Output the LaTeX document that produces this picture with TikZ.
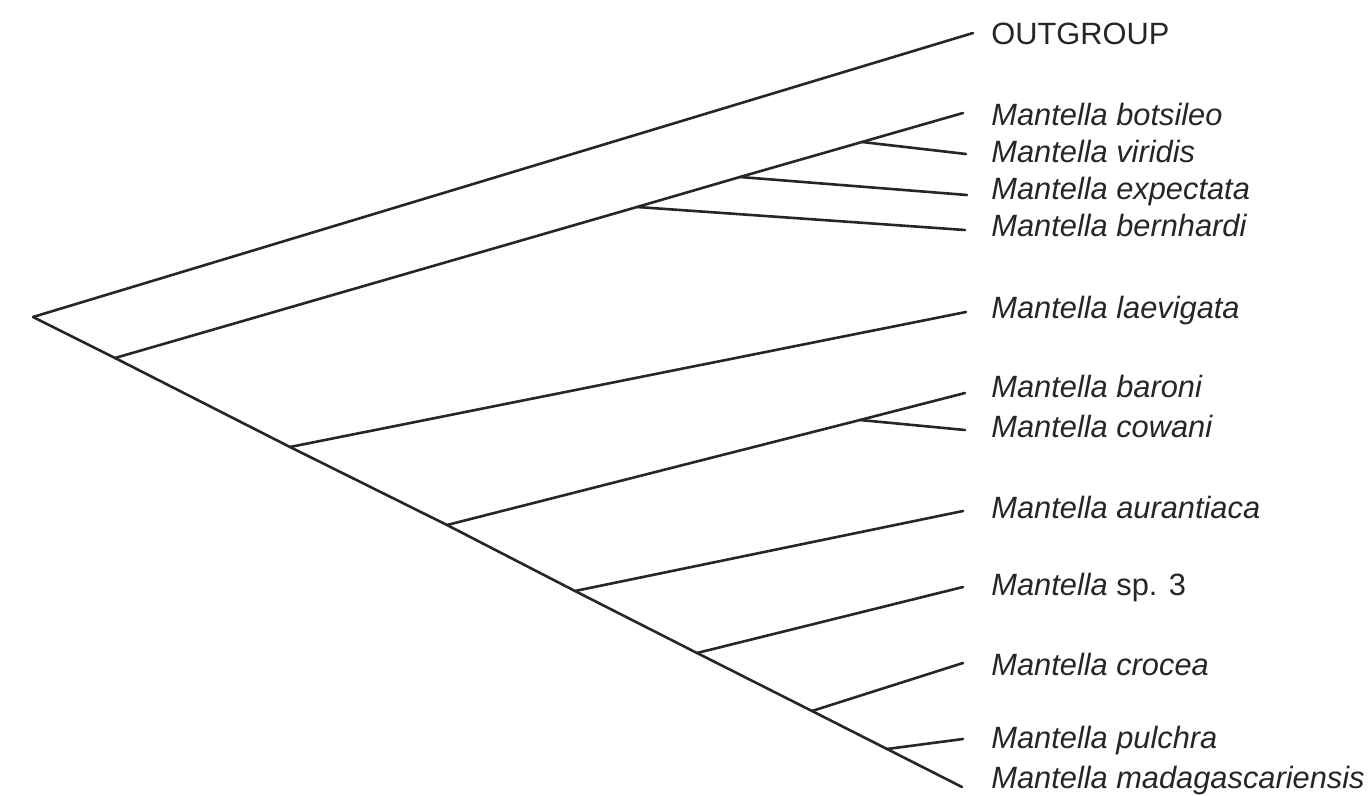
\documentclass[tikz,border=0pt]{standalone}
\usepackage{fontspec}
\setmainfont{Liberation Sans}
\usetikzlibrary{positioning}

\begin{document}
\begin{tikzpicture}[x=0.5pt,y=-0.5pt,
    branch/.style={line width=1.3pt,black!85,line cap=round},
    taxon/.style={anchor=base west,inner sep=0pt,text=black!85,font=\fontsize{15.4}{18}\selectfont\itshape}]
    \useasboundingbox (0,0) rectangle (1369,796);
    % internal nodes
    \coordinate (root) at (33,317);
    \coordinate (N2) at (115,358);
    \coordinate (N3) at (290,447);
    \coordinate (N4) at (447,525);
    \coordinate (N5) at (575,591);
    \coordinate (N6) at (697,653);
    \coordinate (N7) at (812,711);
    \coordinate (N8) at (887,749);
    \coordinate (U1) at (637,207);
    \coordinate (U2) at (740,177);
    \coordinate (U3) at (862,142);
    \coordinate (C1) at (860,420);
    % tips
    \coordinate (Tout) at (973,33);
    \coordinate (Tbot) at (963,113);
    \coordinate (Tvir) at (966,154);
    \coordinate (Texp) at (967,195);
    \coordinate (Tber) at (965,230);
    \coordinate (Tlae) at (966,312);
    \coordinate (Tbar) at (965,393);
    \coordinate (Tcow) at (965,430);
    \coordinate (Taur) at (963,511);
    \coordinate (Tsp) at (963,587);
    \coordinate (Tcro) at (963,663);
    \coordinate (Tpul) at (963,739);
    \coordinate (Tmad) at (962,787);
    % labels
    \node[taxon,font=\fontsize{15.4}{18}\selectfont] (Lout) at (991,45) {OUTGROUP};
    \node[taxon] (Lbot) at (991,126) {Mantella botsileo};
    \node[taxon] (Lvir) at (991,163) {Mantella viridis};
    \node[taxon] (Lexp) at (991,200) {Mantella expectata};
    \node[taxon] (Lber) at (991,237) {Mantella bernhardi};
    \node[taxon] (Llae) at (991,319) {Mantella laevigata};
    \node[taxon] (Lbar) at (991,397) {Mantella baroni};
    \node[taxon] (Lcow) at (991,437) {Mantella cowani};
    \node[taxon] (Laur) at (991,518) {Mantella aurantiaca};
    \node[taxon] (Lsp) at (991,595) {Mantella \upshape sp. 3};
    \node[taxon] (Lcro) at (991,675) {Mantella crocea};
    \node[taxon] (Lpul) at (991,748) {Mantella pulchra};
    \node[taxon] (Lmad) at (991,788) {Mantella madagascariensis};
    % branches
    \foreach \a/\b in {root/Tout,root/N2,N2/N3,N3/N4,N4/N5,N5/N6,N6/N7,N7/N8,N8/Tmad,
                       N2/U1,U1/U2,U2/U3,U3/Tbot,U3/Tvir,U2/Texp,U1/Tber,
                       N3/Tlae,N4/C1,C1/Tbar,C1/Tcow,N5/Taur,N6/Tsp,N7/Tcro,N8/Tpul} {
      \draw[branch] (\a) -- (\b);
    }
\end{tikzpicture}
\end{document}
